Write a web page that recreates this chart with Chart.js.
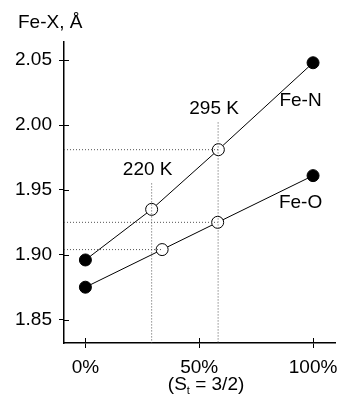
<!DOCTYPE html>
<html>
<head>
<meta charset="utf-8">
<script src="https://cdn.jsdelivr.net/npm/chart.js@4/dist/chart.umd.min.js"></script>
<style>
  html, body { margin: 0; padding: 0; background: #fff; }
  #wrap { width: 346px; height: 400px; position: relative; }
</style>
</head>
<body>
<div id="wrap"><canvas id="chart"></canvas></div>
<script>
// share of S_t = 3/2 (%) and Fe-X bond lengths (Å)
const feNx = [0, 29.1, 58.4, 100];
const feNy = [1.896, 1.935, 1.981, 2.048];
const feOx = [0, 33.7, 58.1, 100];
const feOy = [1.875, 1.904, 1.925, 1.961];
// which points are the measured temperatures (open circles)
const isOpen = [false, true, true, false];
const tempLabels = ['220 K', '295 K'];
const tempX = [29.1, 58.3];
const tempTop = [1.955, 2.002];
const yTicks = [1.85, 1.90, 1.95, 2.00, 2.05];
const xTicks = [0, 50, 100];
const yMin = 1.832, yMax = 2.064;
const xMin = -9.4, xMax = 109.7;

const FONT = "'Liberation Sans', Arial, sans-serif";
Chart.defaults.font.family = FONT;
Chart.defaults.font.size = 19;
Chart.defaults.color = '#000';

const pts = (xs, ys) => xs.map((x, i) => ({ x, y: ys[i] }));
const openOnly = (xs, ys) => xs.map((x, i) => ({ x, y: ys[i] })).filter((p, i) => isOpen[i]);

const guide = {
  borderColor: '#555',
  borderWidth: 1,
  borderDash: [1, 2],
  pointRadius: 0,
  showLine: true,
  fill: false
};

// dotted guides: verticals at the temperatures, horizontals to the open points
const guides = [];
tempX.forEach((x, i) => {
  guides.push({ ...guide, data: [{ x, y: tempTop[i] }, { x, y: yMin }] });
});
[[feNx[2], feNy[2]], [feOx[2], feOy[2]], [feOx[1], feOy[1]]].forEach(([x, y]) => {
  guides.push({ ...guide, data: [{ x: xMin, y }, { x, y }] });
});

const seriesStyle = {
  borderColor: '#000',
  borderWidth: 1,
  showLine: true,
  fill: false,
  pointRadius: 6,
  pointBorderWidth: 1,
  pointBorderColor: '#000',
  pointBackgroundColor: isOpen.map(o => (o ? '#fff' : '#000'))
};

const dotStyle = {
  pointRadius: 1.2,
  pointBorderWidth: 0,
  pointBackgroundColor: '#000',
  showLine: false
};

const annotations = {
  id: 'annotations',
  afterDraw(chart) {
    const { ctx, scales: { x, y }, chartArea } = chart;
    ctx.save();
    // inner half of the tick marks
    ctx.strokeStyle = '#000';
    ctx.lineWidth = 1;
    ctx.beginPath();
    yTicks.forEach(v => {
      const py = Math.round(y.getPixelForValue(v)) + 0.5;
      ctx.moveTo(chartArea.left, py);
      ctx.lineTo(chartArea.left + 5, py);
    });
    xTicks.forEach(v => {
      const px = Math.round(x.getPixelForValue(v)) + 0.5;
      ctx.moveTo(px, chartArea.bottom);
      ctx.lineTo(px, chartArea.bottom - 5);
    });
    ctx.stroke();

    ctx.fillStyle = '#000';
    ctx.font = `19px ${FONT}`;
    ctx.textBaseline = 'middle';
    ctx.textAlign = 'center';
    tempLabels.forEach((t, i) => {
      ctx.fillText(t, x.getPixelForValue(tempX[i]) - 4, y.getPixelForValue(tempTop[i]) - 14);
    });
    ctx.fillText('Fe-N', x.getPixelForValue(94.5), y.getPixelForValue(2.019));
    ctx.fillText('Fe-O', x.getPixelForValue(94.5), y.getPixelForValue(1.94));

    // y axis title
    ctx.textAlign = 'left';
    ctx.fillText('Fe-X, Å', 18, 23);

    // x axis title with subscript
    const cx = x.getPixelForValue(53);
    const cy = 385;
    const a = '(S', b = 't', c = ' = 3/2)';
    ctx.font = `19px ${FONT}`;
    const wa = ctx.measureText(a).width, wc = ctx.measureText(c).width;
    ctx.font = `11px ${FONT}`;
    const wb = ctx.measureText(b).width;
    let sx = cx - (wa + wb + wc) / 2;
    ctx.font = `19px ${FONT}`;
    ctx.fillText(a, sx, cy);
    ctx.font = `11px ${FONT}`;
    ctx.fillText(b, sx + wa, cy + 6);
    ctx.font = `19px ${FONT}`;
    ctx.fillText(c, sx + wa + wb, cy);
    ctx.restore();
  }
};

new Chart(document.getElementById('chart'), {
  type: 'scatter',
  data: {
    datasets: [
      ...guides,
      { ...seriesStyle, data: pts(feNx, feNy) },
      { ...seriesStyle, data: pts(feOx, feOy) },
      { ...dotStyle, data: openOnly(feNx, feNy) },
      { ...dotStyle, data: openOnly(feOx, feOy) }
    ]
  },
  options: {
    responsive: true,
    maintainAspectRatio: false,
    animation: false,
    layout: { padding: { top: 42, right: 8, left: 0, bottom: 0 } },
    plugins: { legend: { display: false }, tooltip: { enabled: false } },
    scales: {
      x: {
        type: 'linear',
        min: xMin,
        max: xMax,
        afterBuildTicks(scale) { scale.ticks = xTicks.map(value => ({ value })); },
        afterFit(scale) { scale.height = 57; },
        ticks: { padding: 8, callback: v => v + '%' },
        grid: { drawOnChartArea: false, tickLength: 5, color: '#000' },
        border: { display: true, color: '#000', width: 1.5 }
      },
      y: {
        min: yMin,
        max: yMax,
        afterBuildTicks(scale) { scale.ticks = yTicks.map(value => ({ value })); },
        afterFit(scale) { scale.width = 64; },
        ticks: { padding: 7, callback: v => Number(v).toFixed(2) },
        grid: { drawOnChartArea: false, tickLength: 5, color: '#000' },
        border: { display: true, color: '#000', width: 1.5 }
      }
    }
  },
  plugins: [annotations]
});
</script>
</body>
</html>
